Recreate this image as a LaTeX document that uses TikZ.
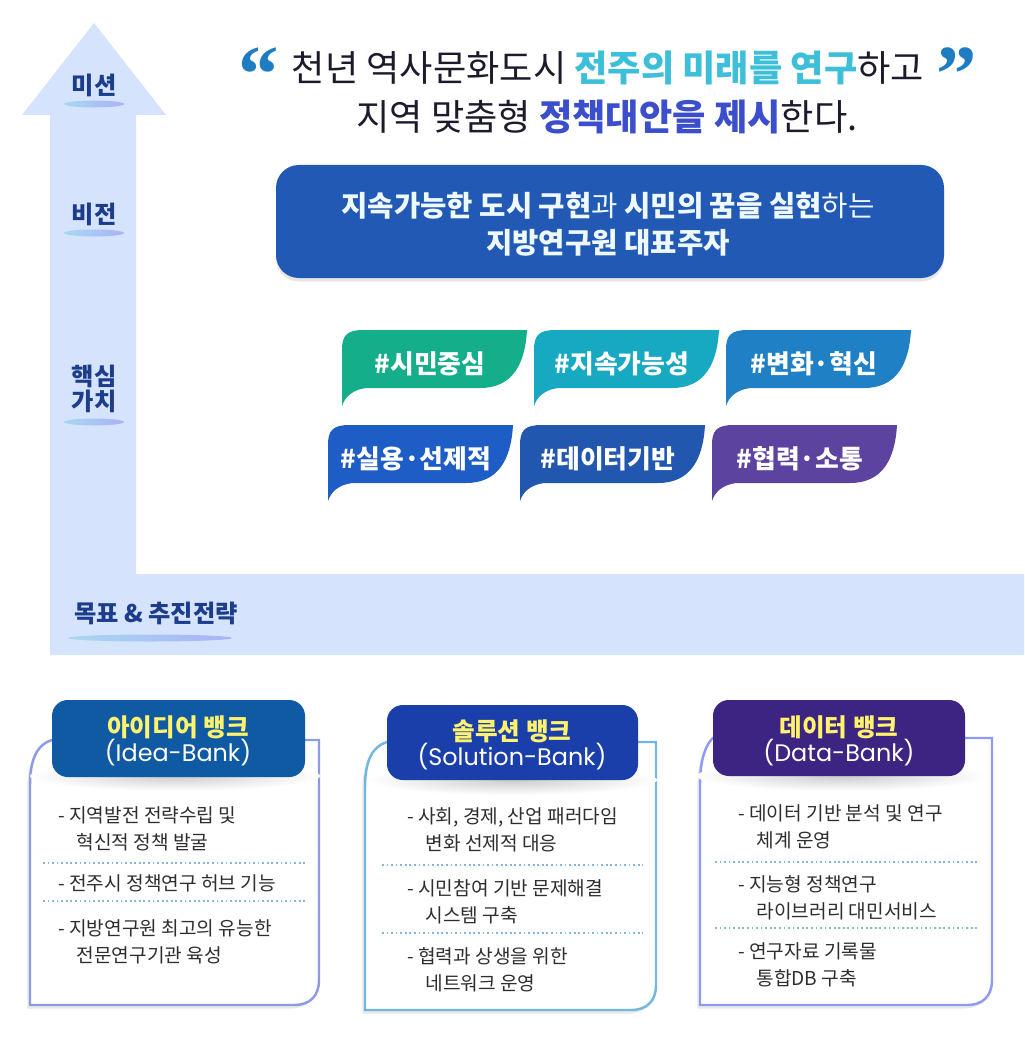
\documentclass[tikz,border=0pt]{standalone}
\usepackage{fontspec}
\setmainfont{Noto Sans CJK KR}
\newfontfamily\quotefont{Liberation Serif}
\newfontfamily\latinfont{Poppins}
\usetikzlibrary{shadows}

\definecolor{arrowbg}{HTML}{D5E4FC}
\definecolor{labelnavy}{HTML}{1C3C8C}
\definecolor{glowcyan}{HTML}{A8D8F2}
\definecolor{glowblue}{HTML}{AAB2F6}
\definecolor{quotedark}{HTML}{1B1B2B}
\definecolor{quotecyan}{HTML}{3DBFDA}
\definecolor{quoteblue}{HTML}{3B4ECC}
\definecolor{quotemarkblue}{HTML}{1E7DC2}
\definecolor{visionblue}{HTML}{2259B4}
\definecolor{visionwhite}{HTML}{EEF9FF}
\definecolor{tagA}{HTML}{14AE8B}
\definecolor{tagB}{HTML}{18A9C2}
\definecolor{tagC}{HTML}{2080C5}
\definecolor{tagD}{HTML}{1E5CC6}
\definecolor{tagE}{HTML}{2257AF}
\definecolor{tagF}{HTML}{5D43A0}
\definecolor{ideahead}{HTML}{0F5AA2}
\definecolor{solhead}{HTML}{1B3FAA}
\definecolor{datahead}{HTML}{3C2482}
\definecolor{idealine}{HTML}{8C9BE2}
\definecolor{solline}{HTML}{72B6E2}
\definecolor{dataline}{HTML}{8F9BF2}
\definecolor{titleyellow}{HTML}{FFF36E}
\definecolor{dotblue}{HTML}{86B8DD}
\definecolor{itemgray}{HTML}{2E2E2E}

% bubble: name, x, y (top left), colour, text
\newcommand{\tagbubble}[5]{%
  \fill[#4] (#2,#3+76) -- (#2,#3+20) .. controls (#2,#3+5) and (#2+5,#3) .. (#2+22,#3)
    -- (#2+185,#3) .. controls (#2+183,#3+35) and (#2+170,#3+58) .. (#2+138,#3+58)
    -- (#2+24,#3+58) .. controls (#2+10,#3+60) and (#2+3,#3+67) .. (#2,#3+76) -- cycle;
  \node[tagtext] (#1) at (#2+88,#3+34) {#5};
}

\tikzset{
  stagelabel/.style={font=\fontsize{13.8}{14.5}\selectfont\bfseries, text=labelnavy, align=center, inner sep=0pt},
  glowline/.style={left color=glowcyan, right color=glowblue},
  quotetext/.style={font=\fontsize{20.6}{24}\selectfont, text=quotedark, inner sep=0pt},
  quotemark/.style={font=\quotefont\bfseries\fontsize{46}{46}\selectfont, text=quotemarkblue, inner sep=0pt, anchor=north},
  visiontext/.style={font=\fontsize{16.3}{21}\selectfont, text=visionwhite, align=center},
  tagtext/.style={font=\fontsize{14.7}{15}\selectfont\bfseries, text=white},
  banktitle/.style={font=\fontsize{14}{14.2}\selectfont, text=white, align=center, inner sep=0pt},
  bankbody/.style={fill=white, line width=1.4pt, drop shadow={opacity=0.18, shadow xshift=-1.5pt, shadow yshift=-2pt}},
  headshadow/.style={inner color=gray!40, outer color=white},
  itemtext/.style={font=\fontsize{10.9}{15.3}\selectfont, text=itemgray, anchor=west, align=left, inner sep=0pt},
  dotsep/.style={draw=dotblue, line width=0.9pt, dash pattern=on 1pt off 1.6pt},
}

\begin{document}
\begin{tikzpicture}[x=0.02cm, y=-0.02cm]
  \useasboundingbox (0,0) rectangle (1024,1054);

  % arrow and band
  \fill[arrowbg] (94,23) -- (166,115) -- (136,115) -- (136,574) -- (1024,574)
    -- (1024,655) -- (50,655) -- (50,115) -- (22,115) -- cycle;

  % stage labels
  \node[stagelabel] (mission) at (94,85) {미션};
  \shade[glowline] (94,104) ellipse (30 and 3.5);
  \node[stagelabel] (vision) at (94,214) {비전};
  \shade[glowline] (94,233) ellipse (30 and 3.5);
  \node[stagelabel] (values) at (94,389) {핵심\\가치};
  \shade[glowline] (94,422) ellipse (30 and 3.5);
  \node[stagelabel] (goals) at (156,613) {목표 \& 추진전략};
  \shade[glowline] (150,638) ellipse (82 and 3.5);

  % mission quote
  \node[quotemark] (lquote) at (259,47) {“};
  \node[quotemark] (rquote) at (957,47) {”};
  \node[quotetext] (quoteA) at (608,68) {천년 역사문화도시 \textcolor{quotecyan}{\bfseries 전주의 미래를 연구}하고};
  \node[quotetext] (quoteB) at (607,117) {지역 맞춤형 \textcolor{quoteblue}{\bfseries 정책대안을 제시}한다.};

  % vision box
  \fill[visionblue, rounded corners=13pt, drop shadow={opacity=0.2, shadow xshift=0pt, shadow yshift=-2pt}]
    (276,165) rectangle (944,278);
  \node[visiontext] (visiontxt) at (608,224) {\bfseries 지속가능한 도시 구현\mdseries 과 \bfseries 시민의 꿈을 실현\mdseries 하는\\\bfseries 지방연구원 대표주자};

  % core values
  \tagbubble{citizen}{342}{330}{tagA}{\#시민중심}
  \tagbubble{sustain}{534}{330}{tagB}{\#지속가능성}
  \tagbubble{change}{726}{330}{tagC}{\#변화·혁신}
  \tagbubble{practical}{328}{425}{tagD}{\#실용·선제적}
  \tagbubble{databased}{520}{425}{tagE}{\#데이터기반}
  \tagbubble{cooperate}{712}{425}{tagF}{\#협력·소통}

  % idea bank
  \filldraw[bankbody, draw=idealine] (52,740) .. controls (38,744) and (30,758) .. (30,785)
    -- (30,1005) -- (294,1005) .. controls (310,1005) and (319,996) .. (319,980) -- (319,740) -- cycle;
  \shade[headshadow] (175,776) ellipse (145 and 15);
  \fill[ideahead, rounded corners=9pt] (52,700) rectangle (305,777);
  \node[banktitle] (ideatitle) at (178,741) {\textcolor{titleyellow}{\bfseries 아이디어 뱅크}\\{\latinfont\fontsize{13.6}{14.2}\selectfont (Idea-Bank)}};
  \node[itemtext] (ideaA) at (58,829) {- 지역발전 전략수립 및\\\hspace*{0.95em}혁신적 정책 발굴};
  \draw[dotsep] (43,863) -- (305,863);
  \node[itemtext] (ideaB) at (58,883) {- 전주시 정책연구 허브 기능};
  \draw[dotsep] (43,901) -- (305,901);
  \node[itemtext] (ideaC) at (58,942) {- 지방연구원 최고의 유능한\\\hspace*{0.95em}전문연구기관 육성};

  % solution bank
  \filldraw[bankbody, draw=solline] (387,742) .. controls (373,746) and (365,760) .. (365,787)
    -- (365,1010) -- (631,1010) .. controls (647,1010) and (656,1001) .. (656,985) -- (656,742) -- cycle;
  \shade[headshadow] (512,780) ellipse (145 and 15);
  \fill[solhead, rounded corners=9pt] (387,705) rectangle (638,780);
  \node[banktitle] (soltitle) at (512,745) {\textcolor{titleyellow}{\bfseries 솔루션 뱅크}\\{\latinfont\fontsize{13.6}{14.2}\selectfont (Solution-Bank)}};
  \node[itemtext] (solA) at (407,830) {- 사회, 경제, 산업 패러다임\\\hspace*{0.95em}변화 선제적 대응};
  \draw[dotsep] (382,865) -- (643,865);
  \node[itemtext] (solB) at (407,902) {- 시민참여 기반 문제해결\\\hspace*{0.95em}시스템 구축};
  \draw[dotsep] (382,933) -- (643,933);
  \node[itemtext] (solC) at (407,970) {- 협력과 상생을 위한\\\hspace*{0.95em}네트워크 운영};

  % data bank
  \filldraw[bankbody, draw=dataline] (713,738) .. controls (708,742) and (700,756) .. (700,783)
    -- (700,1005) -- (967,1005) .. controls (983,1005) and (992,996) .. (992,980) -- (992,738) -- cycle;
  \shade[headshadow] (842,776) ellipse (145 and 15);
  \fill[datahead, rounded corners=9pt] (713,700) rectangle (965,776);
  \node[banktitle] (datatitle) at (839,741) {\textcolor{titleyellow}{\bfseries 데이터 뱅크}\\{\latinfont\fontsize{13.6}{14.2}\selectfont (Data-Bank)}};
  \node[itemtext] (dataA) at (738,827) {- 데이터 기반 분석 및 연구\\\hspace*{0.95em}체계 운영};
  \draw[dotsep] (715,862) -- (977,862);
  \node[itemtext] (dataB) at (738,898) {- 지능형 정책연구\\\hspace*{0.95em}라이브러리 대민서비스};
  \draw[dotsep] (715,928) -- (977,928);
  \node[itemtext] (dataC) at (738,965) {- 연구자료 기록물\\\hspace*{0.95em}통합DB 구축};
\end{tikzpicture}
\end{document}
